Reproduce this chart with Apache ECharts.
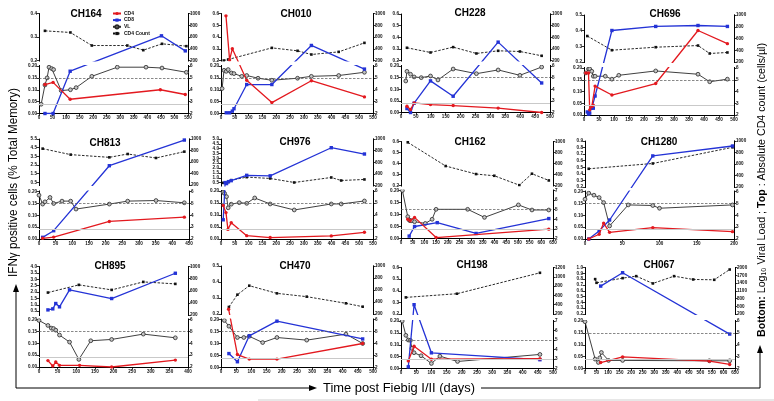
<!DOCTYPE html>
<html><head><meta charset="utf-8">
<script src="https://cdn.jsdelivr.net/npm/echarts@6/dist/echarts.min.js"></script>
<style>html,body{margin:0;padding:0;background:#fff}#c{width:774px;height:401px}</style>
</head><body><div id="c"></div>
<script>
// ---------------- DATA ----------------
const panelNames = ['CH164','CH010','CH228','CH696','CH813','CH976','CH162','CH1280','CH895','CH470','CH198','CH067'];
const xMaxDays = [550,550,500,500,450,550,650,200,400,500,500,650];
const topLeftTicks = [
  [0.2,0.3,0.4],
  [0.2,0.3,0.4,0.5,0.6],
  [0.2,0.3,0.4,0.5,0.6],
  [0.2,0.3,0.4,0.5],
  [0.5,1.5,2.5,3.5,4.5,5.5],
  [0.5,1.0,1.5,2.0,2.5,3.0,3.5,4.0,4.5,5.0],
  [0.2,0.3,0.4,0.5,0.6],
  [0.2,0.3,0.4,0.5,0.6,0.7,0.8,0.9],
  [0.5,1.0,1.5,2.0,2.5,3.0,3.5,4.0],
  [0.2,0.3,0.4,0.5],
  [0.2,0.3,0.4,0.5,0.6],
  [0.2,0.3,0.4,0.5,0.6,0.7,0.8,0.9,1.0]
];
const countTicks1000 = [200,400,600,800,1000];
const countTicks1200 = [200,400,600,800,1000,1200];
const countTicks2000 = [200,500,800,1100,1400,1700,2000];
const vlTicks6 = [2,3,4,5,6];
const vlTicks7 = [2,3,4,5,6,7];
const ifnBottomTicks = [0,0.05,0.10,0.15,0.20];
const ifnBreak = 0.2;
const vlThreshold = 5;
const ifnCutoff = 0.04;

const CH164_CD4 = [[22,0.122],[52,0.131],[115,0.06],[448,0.10],[540,0.08]];
const CH164_CD8 = [[22,0.0],[52,0.0],[115,0.178],[452,0.305],[540,0.241]];
const CH164_VL = [[8,2.78],[22,4.4],[30,5.0],[37,5.9],[47,5.78],[54,5.7],[82,3.93],[116,4.0],[137,4.18],[195,5.13],[289,5.9],[395,5.9],[454,5.83],[544,5.47]];
const CH164_COUNT = [[22,705],[116,677],[195,455],[326,455],[385,376],[454,484],[544,444]];

const CH010_CD4 = [[18,0.58],[31,0.205],[41,0.30],[93,0.14],[184,0.046],[327,0.138],[519,0.07]];
const CH010_CD8 = [[19,0.003],[31,0.003],[41,0.01],[47,0.02],[93,0.122],[184,0.122],[327,0.328],[519,0.187]];
const CH010_VL = [[4,4.1],[11,5.64],[19,5.55],[26,5.7],[38,5.41],[47,5.36],[75,5.13],[93,5.2],[134,4.97],[184,4.8],[277,4.97],[327,5.13],[426,5.2],[519,5.47]];
const CH010_COUNT = [[10,200],[26,217],[184,415],[277,365],[327,302],[426,347],[519,500]];

const CH228_CD4 = [[20,0.027],[32,0.013],[44,0.041],[99,0.034],[175,0.030],[326,0.019],[472,0.0]];
const CH228_CD8 = [[20,0.017],[32,0.0],[44,0.04],[99,0.136],[175,0.07],[326,0.358],[472,0.127]];
const CH228_VL = [[16,4.71],[20,5.54],[32,5.29],[44,5.06],[68,5.0],[99,5.14],[124,4.8],[175,5.74],[253,5.34],[326,5.66],[399,5.2],[472,5.91]];
const CH228_COUNT = [[20,419],[99,338],[175,430],[253,321],[326,367],[399,355],[472,281]];

const CH696_CD4 = [[6,0.179],[15,0.179],[19,0.022],[26,0.036],[31,0.042],[37,0.123],[93,0.085],[239,0.134],[380,0.401],[478,0.317]];
const CH696_CD8 = [[11,0.013],[15,0.004],[19,0.008],[26,0.029],[31,0.029],[37,0.081],[93,0.401],[239,0.427],[380,0.433],[478,0.427]];
const CH696_VL = [[6,5.58],[15,5.92],[19,5.92],[26,5.72],[31,5.3],[37,5.3],[71,5.3],[93,5.05],[116,5.38],[239,5.75],[380,5.47],[419,4.83],[478,5.05]];
const CH696_COUNT = [[11,642],[93,401],[239,452],[380,480],[419,345],[478,362]];

const CH813_CD4 = [[11,0.003],[44,0.008],[211,0.074],[436,0.092]];
const CH813_CD8 = [[11,0.007],[44,0.035],[211,2.42],[436,5.38]];
const CH813_VL = [[0,5.69],[11,4.94],[18,5.13],[33,5.5],[44,4.99],[69,5.19],[95,5.19],[111,4.52],[211,4.94],[266,5.19],[351,5.24],[436,5.05]];
const CH813_COUNT = [[11,832],[95,728],[211,681],[266,739],[351,670],[436,780]];

const CH976_CD4 = [[8,0.14],[18,0.11],[25,0.04],[37,0.068],[93,0.014],[178,0.006],[399,0.013],[519,0.028]];
const CH976_CD8 = [[8,0.08],[15,0.5],[20,0.4],[27,0.6],[37,0.7],[93,1.25],[178,1.2],[399,4.1],[519,3.45]];
const CH976_VL = [[8,5.89],[13,5.8],[20,5.53],[26,4.6],[37,4.9],[66,5.03],[93,4.97],[122,5.42],[178,4.92],[265,4.42],[399,4.92],[435,4.92],[519,5.17]];
const CH976_COUNT = [[8,246],[26,258],[37,292],[93,344],[178,321],[265,252],[399,338],[435,286],[519,304]];

const CH162_CD4 = [[29,0.08],[39,0.074],[58,0.088],[150,0.004],[632,0.039]];
const CH162_CD8 = [[35,0.01],[58,0.05],[155,0.066],[321,0.021],[632,0.083]];
const CH162_VL = [[6,7.0],[29,4.27],[35,3.92],[39,3.85],[46,3.85],[58,3.75],[104,3.57],[133,4.0],[150,5.04],[285,5.04],[357,4.2],[502,5.5],[560,4.97],[632,4.97]];
const CH162_COUNT = [[29,985],[191,554],[321,408],[399,377],[506,206],[560,414],[632,292]];

const CH1280_CD4 = [[5,0.0],[19,0.02],[25,0.067],[33,0.028],[91,0.048],[198,0.031]];
const CH1280_CD8 = [[5,0.0],[19,0.034],[33,0.08],[91,0.673],[198,0.824]];
const CH1280_VL = [[0,5.35],[5,5.86],[12,5.69],[19,5.49],[25,5.07],[33,3.1],[58,4.87],[91,4.82],[100,4.59],[198,4.87]];
const CH1280_COUNT = [[5,517],[91,609],[198,890]];

const CH895_CD4 = [[24,0.027],[37,0.004],[45,0.021],[55,0.007],[109,0.007],[195,0.0],[366,0.029]];
const CH895_CD8 = [[24,0.6],[37,0.68],[45,1.1],[55,0.84],[82,2.17],[195,1.49],[366,3.47]];
const CH895_VL = [[0,5.92],[24,5.5],[33,5.27],[39,5.24],[45,5.1],[55,4.69],[82,4.1],[107,2.64],[139,4.21],[195,4.32],[280,4.77],[366,4.46]];
const CH895_COUNT = [[24,570],[107,697],[195,614],[280,746],[366,713]];

const CH470_CD4 = [[25,0.23],[54,0.054],[93,0.035],[184,0.035],[466,0.1]];
const CH470_CD8 = [[26,0.058],[54,0.024],[93,0.132],[184,0.193],[466,0.119]];
const CH470_VL = [[11,5.92],[26,5.44],[54,4.5],[75,4.5],[93,4.6],[137,4.08],[184,4.5],[282,4.28],[411,4.78],[466,4.0]];
const CH470_COUNT = [[26,317],[54,522],[93,672],[184,544],[282,489],[411,378],[466,322]];

const CH198_CD4 = [[24,0.032],[43,0.094],[100,0.039],[457,0.041]];
const CH198_CD8 = [[24,0.007],[43,0.28],[100,0.066],[457,0.037]];
const CH198_VL = [[4,7.0],[16,5.49],[24,5.0],[31,4.96],[36,4.12],[43,3.66],[66,3.34],[100,2.53],[128,3.3],[186,2.74],[457,3.48]];
const CH198_COUNT = [[16,557],[184,636],[457,1086]];

const CH067_CD4 = [[68,0.025],[163,0.049],[539,0.031],[627,0.017]];
const CH067_CD8 = [[68,0.68],[163,0.91],[627,0.145]];
const CH067_VL = [[0,5.94],[44,2.79],[58,2.51],[64,2.9],[71,3.35],[102,2.68],[163,2.68],[539,2.65],[627,2.65]];
const CH067_COUNT = [[44,1550],[50,1408],[163,1588],[222,1665],[294,1383],[386,1665],[469,1537],[560,1524],[627,1922]];

// ---------------- ASSEMBLY ----------------
const panelData = [
  [CH164_CD4,CH164_CD8,CH164_VL,CH164_COUNT, countTicks1000, vlTicks6],
  [CH010_CD4,CH010_CD8,CH010_VL,CH010_COUNT, countTicks1000, vlTicks6],
  [CH228_CD4,CH228_CD8,CH228_VL,CH228_COUNT, countTicks1000, vlTicks6],
  [CH696_CD4,CH696_CD8,CH696_VL,CH696_COUNT, countTicks1000, vlTicks6],
  [CH813_CD4,CH813_CD8,CH813_VL,CH813_COUNT, countTicks1000, vlTicks6],
  [CH976_CD4,CH976_CD8,CH976_VL,CH976_COUNT, countTicks1000, vlTicks6],
  [CH162_CD4,CH162_CD8,CH162_VL,CH162_COUNT, countTicks1000, vlTicks7],
  [CH1280_CD4,CH1280_CD8,CH1280_VL,CH1280_COUNT, countTicks1000, vlTicks6],
  [CH895_CD4,CH895_CD8,CH895_VL,CH895_COUNT, countTicks1000, vlTicks6],
  [CH470_CD4,CH470_CD8,CH470_VL,CH470_COUNT, countTicks1000, vlTicks6],
  [CH198_CD4,CH198_CD8,CH198_VL,CH198_COUNT, countTicks1200, vlTicks7],
  [CH067_CD4,CH067_CD8,CH067_VL,CH067_COUNT, countTicks2000, vlTicks6]
];

// layout (pixels): left, right, upper-part top/bottom, lower-part top/bottom
const layout = [
  {l:39, r:188, t0:13.5, t1:60.5, b0:66, b1:113.5},
  {l:221, r:373, t0:13.5, t1:60.5, b0:66, b1:113.5},
  {l:401, r:550, t0:14, t1:60.5, b0:66, b1:112.5},
  {l:584, r:734, t0:15, t1:62, b0:68, b1:115},
  {l:39, r:189, t0:139, t1:185, b0:191.5, b1:239},
  {l:221, r:373, t0:139, t1:185.5, b0:191, b1:239},
  {l:401, r:553, t0:141.5, t1:185.5, b0:190.5, b1:238.5},
  {l:585, r:734, t0:141, t1:187, b0:191.5, b1:239},
  {l:39, r:188, t0:266.5, t1:315, b0:319.5, b1:367},
  {l:221, r:373, t0:266, t1:314, b0:319.5, b1:367.5},
  {l:401, r:553, t0:267.5, t1:314, b0:321, b1:368.5},
  {l:585, r:735, t0:267.5, t1:314, b0:321, b1:368.5}
];
const titlePos = [[86,14.5],[296,14],[470,13],[665,14],[105,143],[295,142.5],[470,142],[659,142],[110,266],[295,265.8],[472,265.5],[659,265.5]];

const FONT = '"Liberation Sans", Arial, Helvetica, sans-serif';
const RED = '#e3191f', BLUE = '#2433d6', DARK = '#2a2a2a';
const AXC = '#000';
const LBL = {fontSize:4.6, color:'#111', fontFamily:FONT, fontWeight:'bold', margin:2};

const grids = [], xAxes = [], yAxes = [], series = [], masks = [];

function yAxis(gi, pos, ticks, min, max, fmt) {
  return {
    type:'value', gridIndex:gi, position:pos, min:min, max:max,
    axisLine:{show:true, onZero:false, lineStyle:{color:AXC, width:1}},
    axisTick:{show:true, length:2.5, lineStyle:{color:AXC, width:0.8}, customValues:ticks},
    axisLabel:Object.assign({}, LBL, {customValues:ticks, formatter:fmt, showMinLabel:true, showMaxLabel:true}),
    splitLine:{show:false}
  };
}

panelNames.forEach((name, i) => {
  const L = layout[i];
  const [cd4, cd8, vl, cnt, cTicks, vTicks] = panelData[i];
  const tl = topLeftTicks[i];
  const topMax = tl[tl.length-1];
  // broken-axis scale (lower part 0..1, gap, upper part)
  const hB = L.b1 - L.b0, gap = L.b0 - L.t1, hT = L.t1 - L.t0;
  const gRel = gap / hB, tRel = hT / hB;
  const axMax = 1 + gRel + tRel;
  const fB = y => y / ifnBreak;
  const fT = y => 1 + gRel + (y - ifnBreak) / (topMax - ifnBreak) * tRel;
  const f = y => (y <= ifnBreak ? fB(y) : fT(y));
  const inv = v => (v <= 1 + 1e-6 ? (v * ifnBreak).toFixed(2) : (ifnBreak + (v - 1 - gRel) / tRel * (topMax - ifnBreak)).toFixed(1));

  grids.push({left:L.l, top:L.t0, width:L.r-L.l, height:L.b1-L.t0});
  xAxes.push({
    type:'value', gridIndex:i, min:0, max:xMaxDays[i], interval:50,
    axisLine:{show:true, onZero:false, lineStyle:{color:AXC, width:1}},
    axisTick:{show:true, length:2.5, lineStyle:{color:AXC, width:0.8}},
    axisLabel:Object.assign({}, LBL, {showMinLabel:true, showMaxLabel:true}),
    splitLine:{show:false}
  });
  const yIfn = yAxes.length;
  yAxes.push(yAxis(i, 'left', ifnBottomTicks.map(fB).concat(tl.map(fT)), 0, axMax, inv));
  const c0 = cTicks[0], c1 = cTicks[cTicks.length-1];
  const cSpan = (c1 - c0) / tRel;
  const yCnt = yAxes.length;
  yAxes.push(yAxis(i, 'right', cTicks, c0 - (1 + gRel) * cSpan, c1, v => String(Math.round(v))));
  const v0 = vTicks[0], v1 = vTicks[vTicks.length-1];
  const yVl = yAxes.length;
  yAxes.push(yAxis(i, 'right', vTicks, v0, v0 + axMax * (v1 - v0), v => String(Math.round(v))));

  const common = {type:'line', clip:true, silent:true, animation:false, xAxisIndex:i};
  series.push(Object.assign({}, common, {
    name:'VL', yAxisIndex:yVl, data:vl, z:2,
    symbol:'circle', symbolSize:3.8,
    itemStyle:{color:'#c4c4c4', borderColor:DARK, borderWidth:0.8},
    lineStyle:{color:DARK, width:0.9},
    markLine:{silent:true, symbol:'none', animation:false, label:{show:false},
      lineStyle:{color:'#555', type:[2.5,1.5], width:0.7}, data:[{yAxis:vlThreshold}]}
  }));
  series.push(Object.assign({}, common, {
    name:'CD4 Count', yAxisIndex:yCnt, data:cnt, z:2,
    symbol:'rect', symbolSize:2.6,
    itemStyle:{color:'#111'},
    lineStyle:{color:'#111', width:0.9, type:[2.5,1.5]}
  }));
  series.push(Object.assign({}, common, {
    name:'CD8', yAxisIndex:yIfn, data:cd8.map(p => [p[0], f(p[1])]), z:3,
    symbol:'rect', symbolSize:3.4,
    itemStyle:{color:BLUE}, lineStyle:{color:BLUE, width:1.3}
  }));
  series.push(Object.assign({}, common, {
    name:'CD4', yAxisIndex:yIfn, data:cd4.map(p => [p[0], f(p[1])]), z:4,
    symbol:'circle', symbolSize:3.4,
    itemStyle:{color:RED}, lineStyle:{color:RED, width:1.3},
    markLine:{silent:true, symbol:'none', animation:false, label:{show:false},
      lineStyle:{color:'#c9c9c9', type:'solid', width:1}, data:[{yAxis:fB(ifnCutoff)}]}
  }));
  masks.push({type:'rect', silent:true, z:100,
    shape:{x:L.l-1.5, y:L.t1+0.9, width:L.r-L.l+3, height:gap-1.8}, style:{fill:'#fff'}});
});

// ---------- annotations ----------
function measure(txt, font) {
  const c = document.createElement('canvas').getContext('2d');
  c.font = font; return c.measureText(txt).width;
}
const graphics = masks.slice();
panelNames.forEach((n, i) => {
  graphics.push({type:'text', x:titlePos[i][0], y:titlePos[i][1], z:10, silent:true,
    style:{text:n, fill:'#000', font:'bold 10px ' + FONT, textAlign:'center', textVerticalAlign:'middle'}});
});
const leftTxt = 'IFNγ positive cells (% Total Memory)';
const leftFont = '12px ' + FONT;
graphics.push({type:'text', x:14, y:182.5, rotation:Math.PI/2, scaleX:189/measure(leftTxt,leftFont), silent:true,
  style:{text:leftTxt, fill:'#000', font:leftFont, textAlign:'center', textVerticalAlign:'middle'}});
const botTxt = 'Time post Fiebig I/II (days)';
const botFont = '13px ' + FONT;
graphics.push({type:'text', x:323, y:388, scaleX:152/measure(botTxt,botFont), silent:true,
  style:{text:botTxt, fill:'#000', font:botFont, textAlign:'left', textVerticalAlign:'middle'}});
const rFont = 11;
const rParts = [['Bottom:', true],[' Log₁₀ Viral Load ; ', false],['Top', true],[' : Absolute CD4 count (cells/µl)', false]];
let rW = 0; rParts.forEach(p => { rW += measure(p[0], (p[1]?'bold ':'') + rFont + 'px ' + FONT); });
graphics.push({type:'text', x:762, y:190, rotation:Math.PI/2, scaleX:294/rW, silent:true,
  style:{text:'{b|Bottom:} Log₁₀ Viral Load ; {b|Top} : Absolute CD4 count (cells/µl)',
    fill:'#000', fontSize:rFont, fontFamily:FONT, textAlign:'center', textVerticalAlign:'middle',
    rich:{b:{fontWeight:'bold', fontSize:rFont, fontFamily:FONT, fill:'#000'}}}});
const LS = {stroke:'#000', lineWidth:1};
graphics.push({type:'line', silent:true, shape:{x1:16, y1:388, x2:16, y2:290}, style:LS});
graphics.push({type:'polygon', silent:true, shape:{points:[[16,284],[13,292],[19,292]]}, style:{fill:'#000'}});
graphics.push({type:'line', silent:true, shape:{x1:16, y1:388, x2:311, y2:388}, style:LS});
graphics.push({type:'polygon', silent:true, shape:{points:[[317,388],[309,385],[309,391]]}, style:{fill:'#000'}});
graphics.push({type:'line', silent:true, shape:{x1:481, y1:388, x2:760, y2:388}, style:LS});
graphics.push({type:'line', silent:true, shape:{x1:760, y1:388, x2:760, y2:351}, style:LS});
graphics.push({type:'polygon', silent:true, shape:{points:[[760,345],[757,353],[763,353]]}, style:{fill:'#000'}});
graphics.push({type:'line', silent:true, shape:{x1:258, y1:400, x2:774, y2:400}, style:{stroke:'#cfcfcf', lineWidth:1}});

const chart = echarts.init(document.getElementById('c'), null, {renderer:'canvas', devicePixelRatio:1});
chart.setOption({
  backgroundColor:'#fff',
  animation:false,
  legend:{data:['CD4','CD8','VL','CD4 Count'], orient:'vertical', left:112, top:11, padding:0,
    itemWidth:8, itemHeight:4, itemGap:1.6, selectedMode:false,
    textStyle:{fontSize:5, fontFamily:FONT, fontWeight:'bold', color:'#111', padding:[0,0,0,-2]}},
  grid:grids, xAxis:xAxes, yAxis:yAxes, series:series, graphic:graphics
});
</script></body></html>
